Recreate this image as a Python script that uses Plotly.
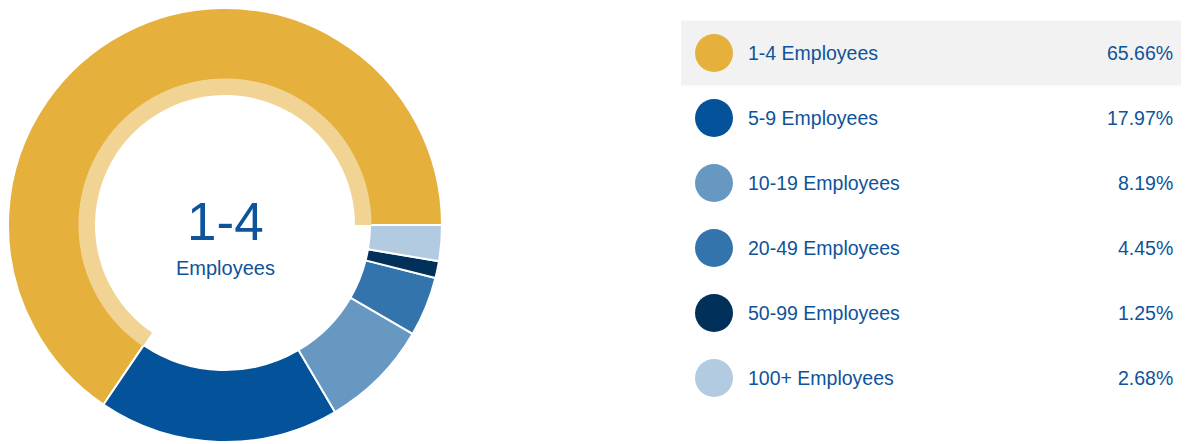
import plotly.graph_objects as go

categories = ["1-4 Employees", "5-9 Employees", "10-19 Employees",
              "20-49 Employees", "50-99 Employees", "100+ Employees"]
shares = [65.66, 17.97, 8.19, 4.45, 1.25, 2.68]
share_labels = ["65.66%", "17.97%", "8.19%", "4.45%", "1.25%", "2.68%"]
colors = ["#E5B03C", "#03529A", "#6798C2", "#3474AD", "#01305A", "#B3CBE1"]
selected_index = 0
selected_light = "#F1D494"
center_big = "1-4"
center_small = "Employees"

W, H = 1189, 444
OFF = 8  # page body margin offset
TEXT = "#0E539B"
FONT = "Liberation Sans, Arial, sans-serif"

cx, cy = 225 - OFF, 225 - OFF
r_out, r_in = 217, 145
r_ring_out, r_ring_in = 146.5, 130

# first slice starts at 3 o'clock and runs counterclockwise
rot = 90 - 360 * shares[0] / sum(shares)


def dom(r):
    return dict(x=[(cx - r) / W, (cx + r) / W],
                y=[(H - cy - r) / H, (H - cy + r) / H])


fig = go.Figure()

fig.add_trace(go.Pie(
    labels=categories, values=shares, sort=False, direction="counterclockwise",
    rotation=rot, hole=r_in / r_out, domain=dom(r_out),
    marker=dict(colors=colors, line=dict(color="white", width=2)),
    textinfo="none", hoverinfo="label+percent", showlegend=False,
))

ring_colors = [selected_light if i == selected_index else "rgba(0,0,0,0)"
               for i in range(len(categories))]
fig.add_trace(go.Pie(
    labels=categories, values=shares, sort=False, direction="counterclockwise",
    rotation=rot, hole=r_ring_in / r_ring_out, domain=dom(r_ring_out),
    marker=dict(colors=ring_colors, line=dict(width=0)),
    textinfo="none", hoverinfo="skip", showlegend=False,
))

# legend rows
row_y0, row_step = 53 - OFF, 65
row_y = [row_y0 + i * row_step for i in range(len(categories))]

fig.add_trace(go.Scatter(
    x=[714 - OFF] * len(categories), y=row_y, mode="markers",
    marker=dict(size=38, color=colors, line=dict(width=0)),
    hoverinfo="skip", showlegend=False,
))

shapes = [dict(type="rect", xref="x", yref="y", x0=681 - OFF, x1=W,
               y0=row_y[selected_index] - 32.5, y1=row_y[selected_index] + 32.5,
               fillcolor="#F2F2F2", line=dict(width=0), layer="below")]

annotations = []
for i, (cat, lab) in enumerate(zip(categories, share_labels)):
    annotations.append(dict(x=746 - OFF, y=row_y[i], xref="x", yref="y", text=cat,
                            showarrow=False, xanchor="left", yanchor="middle",
                            font=dict(size=19.5, color=TEXT, family=FONT)))
    annotations.append(dict(x=1175 - OFF, y=row_y[i], xref="x", yref="y", text=lab,
                            showarrow=False, xanchor="right", yanchor="middle",
                            font=dict(size=19.5, color=TEXT, family=FONT)))

annotations.append(dict(x=cx, y=221 - OFF, xref="x", yref="y", text=center_big,
                        showarrow=False, xanchor="center", yanchor="middle",
                        font=dict(size=53, color=TEXT, family=FONT)))
annotations.append(dict(x=cx, y=268 - OFF, xref="x", yref="y", text=center_small,
                        showarrow=False, xanchor="center", yanchor="middle",
                        font=dict(size=20, color=TEXT, family=FONT)))

fig.update_layout(
    width=W, height=H, margin=dict(l=0, r=0, t=0, b=0),
    paper_bgcolor="white", plot_bgcolor="rgba(0,0,0,0)",
    xaxis=dict(range=[0, W], visible=False, fixedrange=True),
    yaxis=dict(range=[H, 0], visible=False, fixedrange=True),
    shapes=shapes, annotations=annotations, showlegend=False,
)

fig.write_html("out.html")
